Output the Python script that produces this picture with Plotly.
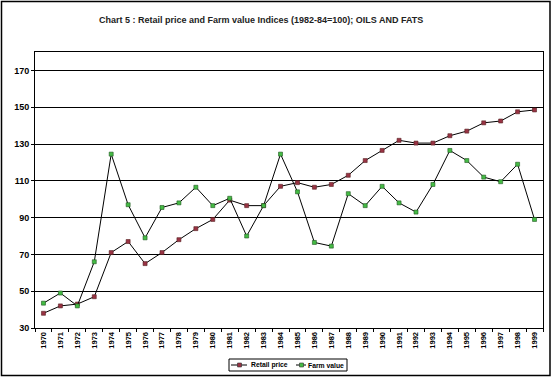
import plotly.graph_objects as go

years = [str(y) for y in range(1970, 2000)]
retail_price = [38, 42, 43, 47, 71, 77, 65, 71, 78, 84, 89, 99.5, 96.5, 96.5, 107, 109, 106.5, 108,
                113, 121, 126.5, 132, 130.5, 130.5, 134.5, 137, 141.5, 142.5, 147.5, 148.5]
farm_value = [43.5, 49, 42, 66, 124.5, 97, 79, 95.5, 98, 106.5, 96.5, 100.5, 80, 96.5, 124.5, 104,
              76.5, 74.5, 103, 96.5, 107, 98, 93, 108, 126.5, 121, 112, 109.5, 119, 89]
y_ticks = [30, 50, 70, 90, 110, 130, 150, 170]
series_names = ["Retail price", "Farm value"]
RED, GREEN = "#993344", "#44bb44"

FONT = "Arial, Liberation Sans, sans-serif"
W, H = 552, 378
L, R, T, B = 35, 9, 52, 50
pw, ph = W - L - R, H - T - B


def px(x):
    return (x - L) / pw


def py(y):
    return (H - B - y) / ph


fig = go.Figure()
fig.add_trace(go.Scatter(
    x=years, y=retail_price, name=series_names[0], mode="lines+markers",
    line=dict(color="black", width=1),
    marker=dict(symbol="square", size=4, color=RED, line=dict(color="#552222", width=0.6)),
))
fig.add_trace(go.Scatter(
    x=years, y=farm_value, name=series_names[1], mode="lines+markers",
    line=dict(color="black", width=1),
    marker=dict(symbol="square", size=4, color=GREEN, line=dict(color="#225522", width=0.6)),
))

fig.update_layout(
    width=W, height=H,
    margin=dict(l=L, r=R, t=T, b=B, pad=0, autoexpand=False),
    paper_bgcolor="white", plot_bgcolor="white",
    font=dict(family=FONT, color="black"),
    title=dict(text="<b>Chart 5 : Retail price and Farm value Indices (1982-84=100); OILS AND FATS</b>",
               x=0.473, xanchor="center", y=1 - 20 / H, yanchor="middle", yref="container",
               font=dict(size=9, family=FONT, color="#222222")),
    showlegend=False,
    xaxis=dict(type="category", range=[-0.5, 29.5], tickangle=-90, tickson="boundaries",
               ticks="outside", ticklen=3, tickcolor="black", showgrid=False, automargin=False,
               showline=True, linecolor="black", linewidth=1, mirror=True,
               tickfont=dict(size=7.5, family=FONT, color="black", weight="bold")),
    yaxis=dict(range=[30, 180], tickvals=y_ticks, ticks="outside", ticklen=3, tickcolor="black",
               showgrid=True, gridcolor="black", gridwidth=1, automargin=False,
               showline=True, linecolor="black", linewidth=1, mirror=True, zeroline=False,
               tickfont=dict(size=9, family=FONT, color="black", weight="bold")),
)

# outer chart border
fig.add_shape(type="rect", xref="paper", yref="paper",
              x0=px(1.5), x1=px(550), y0=py(375.5), y1=py(1.5),
              line=dict(color="black", width=1.5), fillcolor="rgba(0,0,0,0)", layer="below")

# compact legend (box, line samples with markers, labels)
ly = 365
fig.add_shape(type="rect", xref="paper", yref="paper",
              x0=px(229), x1=px(347), y0=py(371), y1=py(359),
              line=dict(color="black", width=1), fillcolor="white", layer="above")
for (x0, x1, xm, xt), name, col in zip([(231, 247, 239.5, 250), (296, 306, 301.5, 307)],
                                       series_names, [RED, GREEN]):
    fig.add_shape(type="line", xref="paper", yref="paper",
                  x0=px(x0), x1=px(x1), y0=py(ly), y1=py(ly), line=dict(color="black", width=1))
    fig.add_shape(type="rect", xref="paper", yref="paper",
                  x0=px(xm - 2), x1=px(xm + 2), y0=py(ly + 2), y1=py(ly - 2),
                  line=dict(color="#333333", width=0.6), fillcolor=col)
    fig.add_annotation(text=name, xref="paper", yref="paper", x=px(xt), y=py(ly),
                       xanchor="left", yanchor="middle", showarrow=False, borderpad=0,
                       font=dict(size=6.8, family=FONT, color="black", weight="bold"))

fig.write_html("out.html", config={"displayModeBar": False},
               post_script="document.body.style.margin='0';document.body.style.overflow='hidden';")
